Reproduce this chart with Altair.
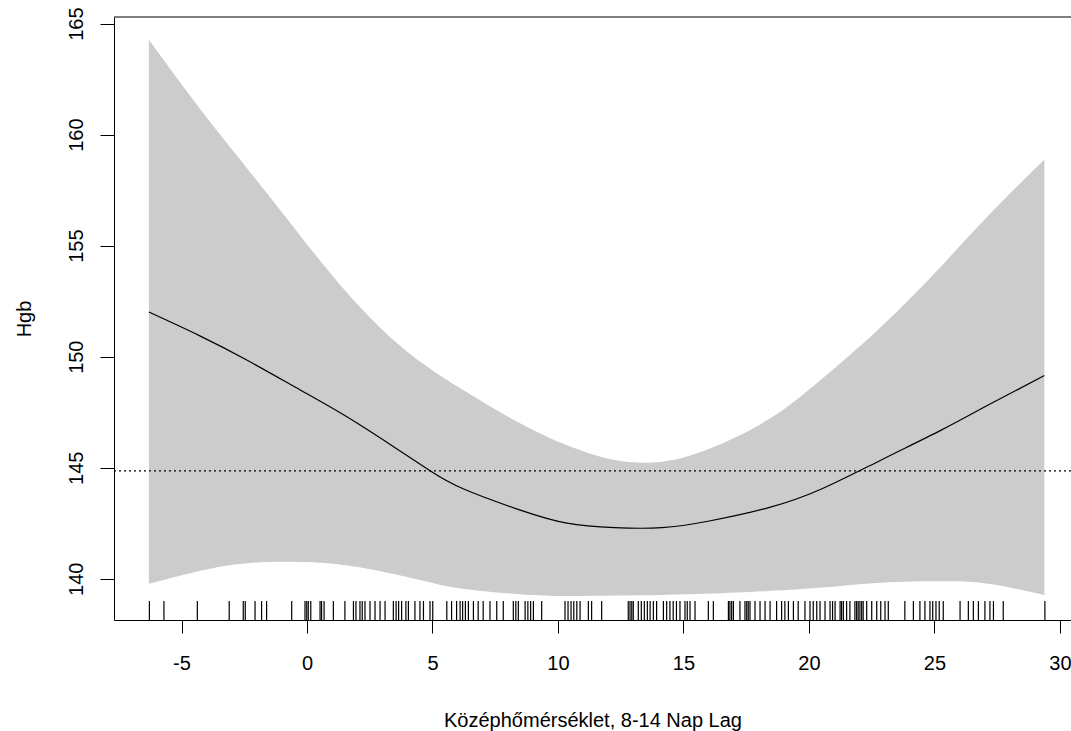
import altair as alt
import pandas as pd

# ---- data ----
grid_x = [-6.30, -4.29, -2.40, -0.27, 1.62, 3.51, 4.92, 6.22, 8.47, 10.36,
          12.25, 14.14, 16.03, 18.40, 20.52, 22.88, 25.25, 27.14, 29.38]
upper = [164.27, 161.20, 158.50, 155.45, 152.85, 150.68, 149.45, 148.50, 147.01, 146.01,
         145.35, 145.27, 145.85, 147.18, 149.01, 151.35, 154.05, 156.35, 158.88]
lower = [139.77, 140.35, 140.70, 140.75, 140.60, 140.20, 139.83, 139.55, 139.30, 139.22,
         139.24, 139.27, 139.33, 139.45, 139.60, 139.82, 139.88, 139.77, 139.27]
fit = [152.01, 150.95, 149.85, 148.50, 147.27, 145.90, 144.85, 144.05, 143.10, 142.50,
       142.30, 142.30, 142.60, 143.20, 144.05, 145.35, 146.68, 147.82, 149.15]

rug_x = [-6.28, -5.70, -4.37, -3.10, -2.54, -2.46, -2.07, -1.81, -1.61, -0.61, -0.08, -0.01,
         0.05, 0.15, 0.52, 0.58, 0.68, 1.05, 1.51, 1.85, 1.95, 2.11, 2.20, 2.31, 2.51, 2.71,
         2.91, 3.11, 3.44, 3.55, 3.65, 3.77, 3.94, 4.04, 4.30, 4.50, 4.64, 4.90, 5.01, 5.57,
         5.76, 5.96, 6.10, 6.20, 6.31, 6.43, 6.63, 6.82, 7.02, 7.29, 7.56,
         7.82, 8.22, 8.32, 8.42, 8.69, 8.80, 8.91, 9.02, 9.35, 10.28, 10.40, 10.52, 10.63,
         10.75, 10.88, 11.21, 11.34, 11.74, 12.80, 12.87, 12.94, 13.00, 13.20, 13.32, 13.44,
         13.56, 13.67, 13.80, 13.93, 14.20, 14.33, 14.46, 14.59, 14.72, 14.86,
         15.06, 15.15, 15.26, 15.46, 15.99, 16.19, 16.79, 16.85, 16.92, 16.99, 17.25, 17.45,
         17.52, 17.58, 17.65, 17.85, 18.05, 18.25, 18.45, 18.71, 18.91, 19.04, 19.18, 19.38,
         19.57, 19.84, 20.04, 20.17, 20.31, 20.44, 20.64, 20.84, 20.94, 21.04, 21.24, 21.30,
         21.37, 21.50, 21.63, 21.83, 21.90, 21.96,
         22.03, 22.10, 22.16, 22.30, 22.50, 22.70, 22.86, 23.03, 23.16, 23.82, 24.16, 24.42,
         24.62, 24.82, 24.93, 25.06, 25.19, 25.35, 26.02, 26.35, 26.55, 26.75, 27.01, 27.21,
         27.35, 27.74, 29.40]

ref_level = [144.86]
x_ticks = [-5, 0, 5, 10, 15, 20, 25, 30]
y_ticks = [140, 145, 150, 155, 160, 165]

x_title = "Középhőmérséklet, 8-14 Nap Lag"
y_title = "Hgb"

X_DOMAIN = [-7.69, 30.44]
Y_DOMAIN = [138.14, 165.30]
W, H = 957, 603
FONT = "Liberation Sans"
FS = 20

band_df = pd.DataFrame({"x": grid_x, "lo": lower, "hi": upper, "fit": fit})
rug_df = pd.DataFrame({"x": rug_x})
ref_df = pd.DataFrame({"y": ref_level})

xs = alt.Scale(domain=X_DOMAIN, nice=False, zero=False)
ys = alt.Scale(domain=Y_DOMAIN, nice=False, zero=False)

common = dict(grid=False, domainColor="black", tickColor="black", labelColor="black",
              titleColor="black", labelFont=FONT, titleFont=FONT, labelFontSize=FS,
              titleFontSize=FS, titleFontWeight="normal", labelFlush=False,
              labelOverlap=False, domainWidth=1, tickWidth=1,
              labelExpr="datum.value + ''")

x_axis = alt.Axis(values=x_ticks, title=x_title, tickSize=13, labelPadding=20,
                  titleY=106, titleBaseline="alphabetic", **common)
y_axis = alt.Axis(values=y_ticks, title=y_title, tickSize=14, labelPadding=18,
                  labelAngle=270, labelAlign="center", labelBaseline="alphabetic",
                  titleAngle=270, titleX=-84, titleY=H / 2, titleAlign="center",
                  titleBaseline="alphabetic", **common)

band = alt.Chart(band_df).mark_area(color="#CCCCCC", interpolate="natural", opacity=1).encode(
    x=alt.X("x:Q", scale=xs, axis=x_axis),
    y=alt.Y("lo:Q", scale=ys, axis=y_axis),
    y2="hi:Q",
)
line = alt.Chart(band_df).mark_line(color="black", strokeWidth=1.2, interpolate="natural").encode(
    x=alt.X("x:Q", scale=xs), y=alt.Y("fit:Q", scale=ys)
)
ref = alt.Chart(ref_df).mark_rule(color="black", strokeDash=[2, 3], strokeWidth=1.2).encode(
    y=alt.Y("y:Q", scale=ys)
)
rug = alt.Chart(rug_df).mark_rule(color="black", strokeWidth=1.2).encode(
    x=alt.X("x:Q", scale=xs), y=alt.value(H - 19), y2=alt.value(H)
)
top = alt.Chart(ref_df).mark_rule(color="black", strokeWidth=1).encode(
    x=alt.value(0), x2=alt.value(W), y=alt.value(0)
)

chart = alt.layer(band, line, ref, rug, top).properties(
    width=W, height=H,
    autosize=alt.AutoSizeParams(type="none"),
    padding={"left": 114, "top": 17, "right": 0, "bottom": 111},
    background="white",
).configure_view(stroke=None)

chart.save("out.html", embed_options={"renderer": "svg", "actions": False})
